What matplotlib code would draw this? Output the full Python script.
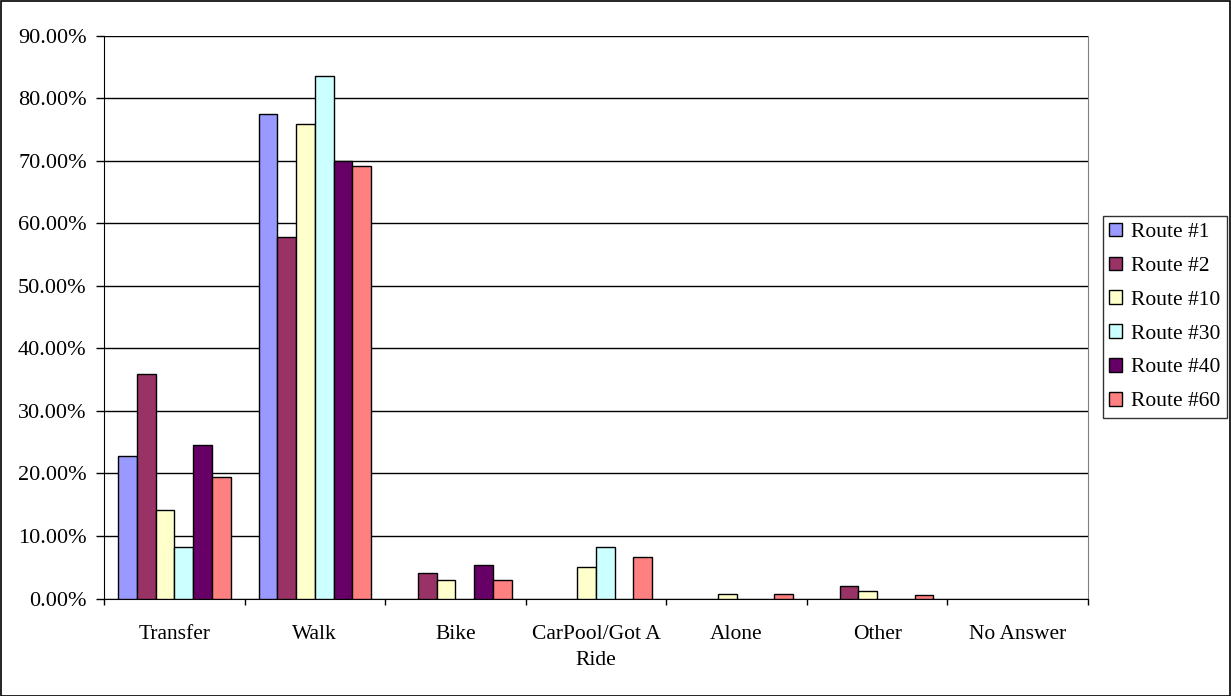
import matplotlib.pyplot as plt
import numpy as np
from matplotlib.ticker import FuncFormatter

categories = ["Transfer", "Walk", "Bike", "CarPool/Got A\nRide", "Alone", "Other", "No Answer"]
routes = ["Route #1", "Route #2", "Route #10", "Route #30", "Route #40", "Route #60"]
colors = ["#9999FF", "#993366", "#FFFFCC", "#CCFFFF", "#660066", "#FF8080"]

route_1 = [22.8, 77.4, 0.0, 0.0, 0.0, 0.0, 0.0]
route_2 = [35.9, 57.8, 4.05, 0.0, 0.0, 2.0, 0.0]
route_10 = [14.1, 75.8, 2.9, 5.1, 0.64, 1.2, 0.0]
route_30 = [8.3, 83.6, 0.0, 8.3, 0.0, 0.0, 0.0]
route_40 = [24.6, 69.9, 5.4, 0.0, 0.0, 0.0, 0.0]
route_60 = [19.4, 69.2, 2.9, 6.7, 0.64, 0.6, 0.0]
series = [route_1, route_2, route_10, route_30, route_40, route_60]

plt.rcParams["font.family"] = ["Liberation Serif", "DejaVu Serif"]

fig = plt.figure(figsize=(12.31, 6.96), dpi=100)
ax = fig.add_axes([104 / 1231, 1 - 598.5 / 696, 984 / 1231, 562.8 / 696])

n = len(series)
bw = 1.0 / (n + 1.5)
x = np.arange(len(categories))
for i, (vals, c, name) in enumerate(zip(series, colors, routes)):
    v = np.array(vals, dtype=float)
    v = np.where(v > 0, v, np.nan)  # empty bars are not drawn
    ax.bar(x - 0.5 + 0.75 * bw + (i + 0.5) * bw, v, width=bw, color=c,
           edgecolor="black", linewidth=1.0, label=name, zorder=3)

ax.set_xlim(-0.5, len(categories) - 0.5)
ax.set_ylim(0, 90)
ax.set_yticks(np.arange(0, 91, 10))
ax.yaxis.set_major_formatter(FuncFormatter(lambda v, p: f"{v:.2f}%"))
ax.grid(axis="y", color="black", linewidth=1.0, zorder=0)
ax.set_xticks(x)
ax.set_xticklabels(categories, fontsize=15.5, linespacing=1.5)
ax.set_xticks(np.arange(len(categories) + 1) - 0.5, minor=True)
ax.tick_params(axis="x", which="major", length=0, pad=19)
ax.tick_params(axis="x", which="minor", length=4.5, width=1, color="black")
ax.tick_params(axis="y", length=5.5, width=1, labelsize=16, pad=7)

ax.spines["top"].set_visible(False)
ax.spines["right"].set_color("#808080")
ax.spines["left"].set_color("black")
ax.spines["bottom"].set_color("black")

leg = ax.legend(loc="center left", bbox_to_anchor=(1103 / 1231, 1 - 317 / 696),
                bbox_transform=fig.transFigure, fontsize=15.5, frameon=True,
                fancybox=False, edgecolor="black", handlelength=0.6,
                handleheight=0.6, handletextpad=0.42, labelspacing=0.67,
                borderpad=0.3, borderaxespad=0)
leg.get_frame().set_linewidth(1.0)

fig.patches.append(plt.Rectangle((0.0005, 0.0007), 0.999, 0.998, transform=fig.transFigure,
                                 fill=False, edgecolor="black", linewidth=1.2))

fig.savefig("out.png", dpi=100)
